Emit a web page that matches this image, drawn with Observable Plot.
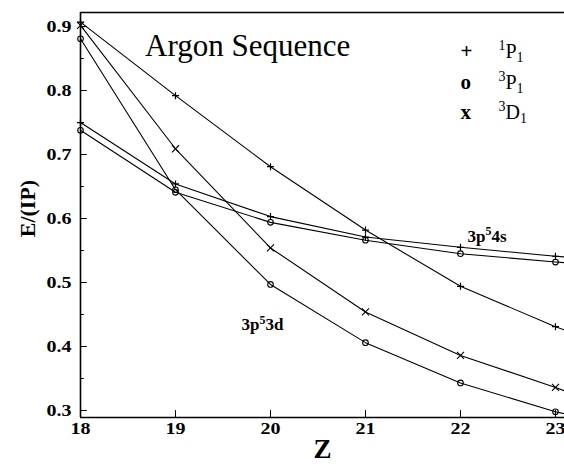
<!DOCTYPE html>
<html><head><meta charset="utf-8">
<script src="https://cdn.jsdelivr.net/npm/d3@7"></script>
<script src="https://cdn.jsdelivr.net/npm/@observablehq/plot@0.6"></script>
<style>html,body{margin:0;padding:0;background:#fff}#chart svg{display:block}#chart svg text{font-family:"Liberation Serif","Tinos","Times New Roman","DejaVu Serif",serif}</style>
</head><body><div id="chart"></div>
<script>
// ---- data ----
const Z = [18, 19, 20, 21, 22, 23];
const ZEdge = 23.09; // where the curves leave the picture on the right
const d_1P1 = [0.907, 0.792, 0.681, 0.582, 0.494, 0.431];
const d_3D1 = [0.902, 0.709, 0.554, 0.454, 0.386, 0.336];
const d_3P1 = [0.881, 0.645, 0.497, 0.406, 0.343, 0.298];
const s_1P1 = [0.750, 0.654, 0.603, 0.571, 0.555, 0.541];
const s_3P1 = [0.738, 0.641, 0.594, 0.566, 0.545, 0.532];
const edgeValues = [0.426, 0.331, 0.295, 0.540, 0.531];
const seriesNames = ["3p53d 1P1", "3p53d 3D1", "3p53d 3P1", "3p54s 1P1", "3p54s 3P1"];
const seriesSymbols = ["plus", "times", "circle", "plus", "circle"];
const seriesValues = [d_1P1, d_3D1, d_3P1, s_1P1, s_3P1];

const xTicks = [18, 19, 20, 21, 22, 23];
const yTicks = [0.3, 0.4, 0.5, 0.6, 0.7, 0.8, 0.9];
const yMinor = [0.35, 0.45, 0.55, 0.65, 0.75, 0.85];

const titleText = "Argon Sequence";
const legendChars = ["+", "o", "x"];
const legendLabels = ["^{1}P_{1}", "^{3}P_{1}", "^{3}D_{1}"];
const configLabels = ["3p^{5}4s", "3p^{5}3d"];
const xLabel = "Z";
const yLabel = "E/(IP)";

// ---- layout (not data) ----
const FONT = "'Liberation Serif','Tinos','Times New Roman','DejaVu Serif',serif";
const xDomain = [18, 23.095];
const yDomain = [0.289, 0.922];
const titlePos = {x: 18.68, y: 0.8547};
const legendX = 22.0, legendLabelX = 22.4;
const legendY = [0.8516, 0.8031, 0.7563];
const configX = [22.074, 19.695];
const configY = [0.564, 0.425];
const yLabelPos = {x: 17.442, y: 0.6156};

const dotRows = [], lineRows = [];
seriesValues.forEach((vals, i) => {
  vals.forEach((v, j) => {
    dotRows.push({series: seriesNames[i], symbol: seriesSymbols[i], z: Z[j], v});
    lineRows.push({series: seriesNames[i], z: Z[j], v});
  });
  lineRows.push({series: seriesNames[i], z: ZEdge, v: edgeValues[i]});
});

const tickShape = {draw(context, l) { context.moveTo(0, 0); context.lineTo(0, -l); }};

const chart = Plot.plot({
  width: 564, height: 464,
  marginLeft: 80, marginRight: 0, marginTop: 12, marginBottom: 47,
  x: {domain: xDomain},
  y: {domain: yDomain},
  style: {fontFamily: FONT, background: "white", color: "black", overflow: "visible"},
  marks: [
    Plot.axisY({ticks: yTicks, tickSize: 0, tickPadding: 9, tickFormat: d => d.toFixed(1), label: null, fontSize: 16, fontWeight: "bold", fontFamily: FONT}),
    Plot.axisX({ticks: xTicks, tickSize: 0, tickPadding: 5, tickFormat: d => String(d), label: null, fontSize: 16, fontWeight: "bold", fontFamily: FONT}),
    Plot.vector(yTicks, {x: () => xDomain[0], y: d => d, length: 6, rotate: 90, anchor: "start", shape: tickShape, stroke: "black", strokeWidth: 1}),
    Plot.vector(yMinor, {x: () => xDomain[0], y: d => d, length: 3, rotate: 90, anchor: "start", shape: tickShape, stroke: "black", strokeWidth: 1}),
    Plot.vector(xTicks, {x: d => d, y: () => yDomain[0], length: 7, rotate: 0, anchor: "start", shape: tickShape, stroke: "black", strokeWidth: 1}),
    Plot.ruleX([xDomain[0]], {stroke: "black", strokeWidth: 1.6}),
    Plot.ruleY([yDomain[0]], {stroke: "black", strokeWidth: 1.5}),
    Plot.ruleY([yDomain[1]], {stroke: "black", strokeWidth: 1.3}),
    Plot.line(lineRows, {x: "z", y: "v", z: "series", curve: "linear", stroke: "black", strokeWidth: 1.1}),
    Plot.dot(dotRows.filter(d => d.symbol === "plus"), {x: "z", y: "v", symbol: "plus", r: 2.4, stroke: "black", strokeWidth: 1.2, fill: "none"}),
    Plot.dot(dotRows.filter(d => d.symbol === "times"), {x: "z", y: "v", symbol: "times", r: 3.3, stroke: "black", strokeWidth: 1.1, fill: "none"}),
    Plot.dot(dotRows.filter(d => d.symbol === "circle"), {x: "z", y: "v", r: 2.8, stroke: "black", strokeWidth: 1.1, fill: "none"}),
    Plot.text([titleText], {x: titlePos.x, y: titlePos.y, text: d => d, textAnchor: "start", lineAnchor: "bottom", fontSize: 31, fontFamily: FONT, fill: "black", ariaLabel: "title"}),
    Plot.text(legendChars, {x: legendX, y: (d, i) => legendY[i], text: d => d, textAnchor: "start", lineAnchor: "bottom", fontSize: 21, fontWeight: "bold", fontFamily: FONT, fill: "black", ariaLabel: "legend-symbol"}),
    Plot.text(legendLabels, {x: legendLabelX, y: (d, i) => legendY[i], text: d => d, textAnchor: "start", lineAnchor: "bottom", fontSize: 20, fontFamily: FONT, fill: "black", ariaLabel: "legend-label"}),
    Plot.text(configLabels, {x: (d, i) => configX[i], y: (d, i) => configY[i], text: d => d, textAnchor: "start", lineAnchor: "bottom", fontSize: 17, fontWeight: "bold", fontFamily: FONT, fill: "black", ariaLabel: "config-label"}),
    Plot.text([xLabel], {frameAnchor: "bottom", text: d => d, dy: 40, fontSize: 27, fontWeight: "bold", fontFamily: FONT, fill: "black", ariaLabel: "x-label"}),
    Plot.text([yLabel], {x: yLabelPos.x, y: yLabelPos.y, text: d => d, rotate: -90, fontSize: 22, fontWeight: "bold", fontFamily: FONT, fill: "black", ariaLabel: "y-label"})
  ]
});

document.getElementById("chart").appendChild(chart);
const svg = chart.tagName.toLowerCase() === "svg" ? chart : chart.querySelector("svg");

function richify(t) {
  const s = t.textContent;
  if (!/[\^_]\{/.test(s)) return;
  const fs = parseFloat(getComputedStyle(t).fontSize) || 16;
  t.textContent = "";
  const re = /([\^_])\{([^}]*)\}|([^\^_]+)/g;
  let m, shift = 0;
  while ((m = re.exec(s))) {
    const ts = document.createElementNS("http://www.w3.org/2000/svg", "tspan");
    let target = 0, size = null;
    if (m[1] === "^") { target = -0.38 * fs; size = 0.7 * fs; ts.textContent = m[2]; }
    else if (m[1] === "_") { target = 0.2 * fs; size = 0.7 * fs; ts.textContent = m[2]; }
    else ts.textContent = m[3];
    const dy = target - shift; shift = target;
    if (dy) ts.setAttribute("dy", dy);
    if (size) ts.setAttribute("font-size", size);
    t.appendChild(ts);
  }
}
svg.querySelectorAll("text").forEach(richify);

function stretch(label, sx) {
  svg.querySelectorAll(`g[aria-label="${label}"] text`).forEach(t => {
    const tr = t.getAttribute("transform") || "";
    const x = +t.getAttribute("x") || 0, y = +t.getAttribute("y") || 0;
    t.setAttribute("transform", `${tr} translate(${x},${y}) scale(${sx},1) translate(${-x},${-y})`);
  });
}
stretch("y-axis tick label", 1.25);
stretch("x-axis tick label", 1.25);
stretch("legend-label", 1.4);
stretch("config-label", 1.2);
stretch("legend-symbol", 1.1);
</script>
</body></html>
